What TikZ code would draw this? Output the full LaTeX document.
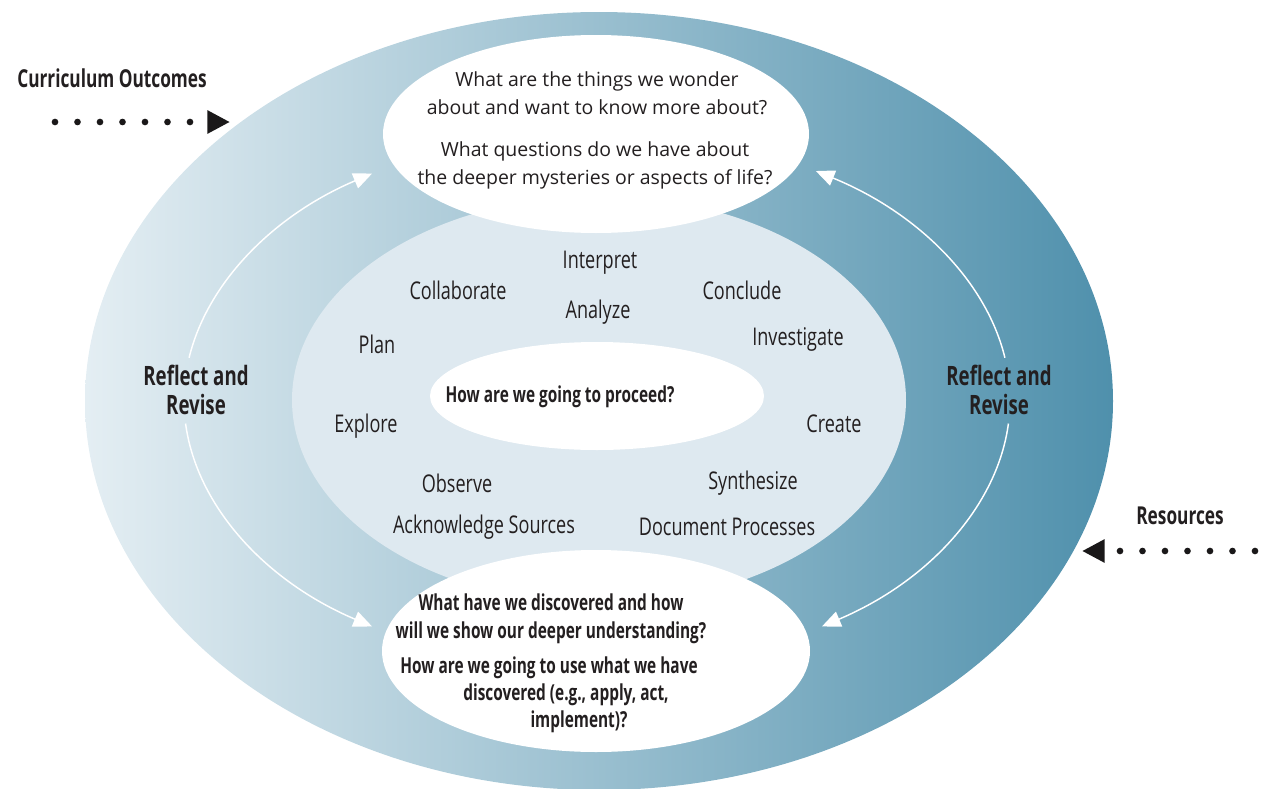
\documentclass[tikz,border=0pt]{standalone}
\usepackage{fontspec}
\setmainfont{Open Sans}
\newfontfamily\narrowfont[FakeStretch=0.74]{Open Sans}
\newfontfamily\narrowbold[FakeStretch=0.70]{Open Sans Bold}
\usetikzlibrary{arrows.meta}

\tikzset{every picture/.style={line width=0.75pt}}
\tikzset{
	stagetxt/.style={text={rgb, 255:red, 35; green, 31; blue, 32}, font=\narrowfont\fontsize{18.3}{21}\selectfont, inner sep=0pt},
	boldtxt/.style={text={rgb, 255:red, 35; green, 31; blue, 32}, font=\narrowbold\fontsize{16.5}{21}\selectfont, inner sep=0pt, align=center},
	wondertxt/.style={text={rgb, 255:red, 35; green, 31; blue, 32}, font=\fontsize{14.6}{21}\selectfont, inner sep=0pt, align=center},
	cycarrow/.style={draw=white, line width=1.1pt, -{Triangle[length=14pt, width=12pt, fill=white]}},
	dotarrow/.style={draw={rgb, 255:red, 26; green, 24; blue, 25}, line width=5pt, line cap=round, dash pattern=on 0pt off 16.875pt, -{Triangle[length=17pt, width=16.5pt]}}
}

\begin{document}
\begin{tikzpicture}[x=0.75pt,y=0.75pt,yscale=-1,xscale=1]
	\useasboundingbox (0,0) rectangle (1261,789);

	%Shape: Ellipse [outer ring]
	\shade [left color={rgb, 255:red, 228; green, 238; blue, 243 }, right color={rgb, 255:red, 79; green, 144; blue, 172 }] (599,401) ellipse [x radius=514, y radius=389];
	%Shape: Ellipse [inner field]
	\draw [draw opacity=0][fill={rgb, 255:red, 222; green, 233; blue, 240 }, fill opacity=1] (599,400) ellipse [x radius=307, y radius=204];
	%Shape: Ellipse [top question]
	\draw [draw opacity=0][fill=white] (596,134) ellipse [x radius=213, y radius=99];
	%Shape: Ellipse [bottom question]
	\draw [draw opacity=0][fill=white] (596,651) ellipse [x radius=214, y radius=101];
	%Shape: Ellipse [centre question]
	\draw [draw opacity=0][fill=white] (597,396) ellipse [x radius=167, y radius=54];

	%Reflect and revise arcs
	\coordinate (ring) at (597,400);
	\coordinate (lup) at ([shift={(189:413 and 270)}]ring);
	\coordinate (llo) at ([shift={(175:413 and 270)}]ring);
	\coordinate (rup) at ([shift={(-9:413 and 270)}]ring);
	\coordinate (rlo) at ([shift={(5:413 and 270)}]ring);
	\draw [cycarrow] (lup) arc [start angle=189, end angle=237, x radius=413, y radius=270];
	\draw [cycarrow] (llo) arc [start angle=175, end angle=123, x radius=413, y radius=270];
	\draw [cycarrow] (rup) arc [start angle=-9, end angle=-58, x radius=413, y radius=270];
	\draw [cycarrow] (rlo) arc [start angle=5, end angle=57, x radius=413, y radius=270];

	%Outcomes and resources
	\node [boldtxt, font=\narrowbold\fontsize{18.5}{21}\selectfont] (outcomes) at (112,78) {Curriculum Outcomes};
	\node [boldtxt, font=\narrowbold\fontsize{18.5}{21}\selectfont] (resources) at (1180,516) {Resources};
	\coordinate (outfrom) at (55,122);
	\coordinate (outto) at (230,122);
	\coordinate (resfrom) at (1255,551);
	\coordinate (resto) at (1082,551);
	\draw [dotarrow] (outfrom) -- (outto);
	\draw [dotarrow] (resfrom) -- (resto);

	%Questions
	\node [wondertxt] (wonder) at (597,93) {What are the things we wonder\\about and want to know more about?};
	\node [wondertxt] (mystery) at (595,165.5) {What questions do we have about\\the deeper mysteries or aspects of life?};
	\node [boldtxt] (proceed) at (560,397) {How are we going to proceed?};
	\node [boldtxt] (discover) at (551,619) {What have we discovered and how\\will we show our deeper understanding?};
	\node [boldtxt] (usea) at (549,668) {How are we going to use what we have};
	\node [boldtxt] (useb) at (566,695) {discovered (e.g., apply, act,};
	\node [boldtxt] (usec) at (579,722) {implement)?};
	\node [boldtxt, font=\narrowbold\fontsize{20}{22}\selectfont] (revleft) at (196,390) {Reflect and\\Revise};
	\node [boldtxt, font=\narrowbold\fontsize{20}{22}\selectfont] (revright) at (999,390) {Reflect and\\Revise};

	%Stages
	\node [stagetxt] (interpret) at (600,263) {Interpret};
	\node [stagetxt] (collab) at (458,290) {Collaborate};
	\node [stagetxt] (conclude) at (742,290) {Conclude};
	\node [stagetxt] (analyze) at (598,312) {Analyze};
	\node [stagetxt] (plan) at (377,344) {Plan};
	\node [stagetxt] (investigate) at (798,339) {Investigate};
	\node [stagetxt] (explore) at (366,426) {Explore};
	\node [stagetxt] (create) at (834,424) {Create};
	\node [stagetxt] (observe) at (457,483) {Observe};
	\node [stagetxt] (synth) at (753,483) {Synthesize};
	\node [stagetxt] (sources) at (484,527) {Acknowledge Sources};
	\node [stagetxt] (document) at (727,527) {Document Processes};

\end{tikzpicture}
\end{document}
